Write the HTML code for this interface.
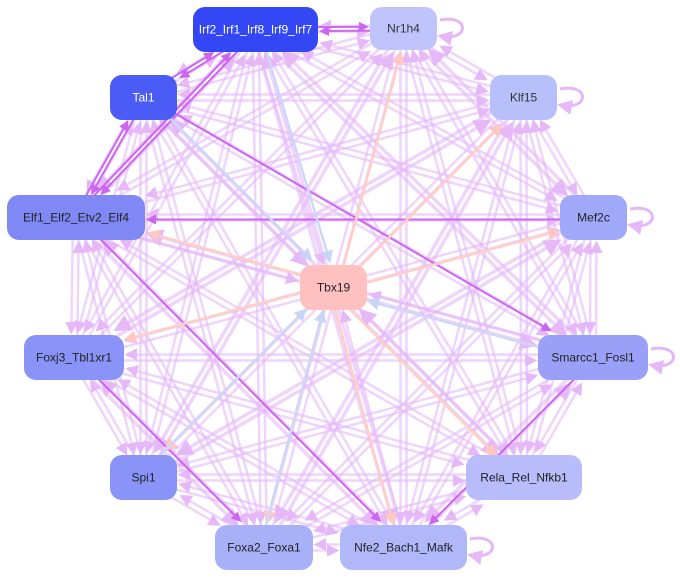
<!DOCTYPE html>
<html><head><meta charset="utf-8"><style>
body{margin:0;background:#fff;width:680px;height:578px;overflow:hidden}
svg{display:block}
text{font-family:"Liberation Sans",sans-serif;font-size:12px}
</style></head><body>
<svg id="s" width="680" height="578" viewBox="0 0 680 578">
<defs>
<marker id="ap" markerWidth="5" markerHeight="5" refX="4" refY="2.5" orient="auto" markerUnits="strokeWidth"><path d="M0,0L5,2.5L0,5z" fill="#e6b8f8"/></marker>
<marker id="ad" markerWidth="5" markerHeight="5" refX="4" refY="2.5" orient="auto" markerUnits="strokeWidth"><path d="M0,0L5,2.5L0,5z" fill="#cc66f0"/></marker>
<marker id="ak" markerWidth="5" markerHeight="5" refX="4" refY="2.5" orient="auto" markerUnits="strokeWidth"><path d="M0,0L5,2.5L0,5z" fill="#ffc8c0"/></marker>
<marker id="ab" markerWidth="5" markerHeight="5" refX="4" refY="2.5" orient="auto" markerUnits="strokeWidth"><path d="M0,0L5,2.5L0,5z" fill="#c8d4f8"/></marker>
</defs>
<g id="e"></g>
<g id="n"></g>
</svg>
<script>
var N=[
["Irf2_Irf1_Irf8_Irf9_Irf7",193,7,125,45,"#3347f5","#fff"],
["Nr1h4",370,7,67,43,"#c0c4fc","#333"],
["Tal1",110,75,67,45,"#4a5cf5","#fff"],
["Klf15",490,75,67,45,"#b8c0fc","#333"],
["Elf1_Elf2_Etv2_Elf4",7,195,138,45,"#8088f5","#222"],
["Mef2c",560,195,67,45,"#a0a8fa","#222"],
["Tbx19",300,265,67,45,"#ffc0c0","#222"],
["Foxj3_Tbl1xr1",24,335,100,45,"#8a94f8","#222"],
["Smarcc1_Fosl1",538,335,110,45,"#9aa0f8","#222"],
["Spi1",110,455,67,45,"#8a94f8","#222"],
["Rela_Rel_Nfkb1",466,455,116,45,"#b8bcfa","#222"],
["Foxa2_Foxa1",215,525,98,45,"#a8b0f8","#222"],
["Nfe2_Bach1_Mafk",340,525,127,45,"#b0b8fa","#222"]];
var ns="http://www.w3.org/2000/svg",E=document.getElementById("e"),G=document.getElementById("n");
function c(i){return [N[i][1]+N[i][3]/2,N[i][2]+N[i][4]/2]}
function ln(a,b,col,w,m,off){var p=c(a),q=c(b);var dx=q[0]-p[0],dy=q[1]-p[1],L=Math.hypot(dx,dy);
var ux=dx/L,uy=dy/L,o=off||0;
var l=document.createElementNS(ns,"line");
l.setAttribute("x1",p[0]-uy*o);l.setAttribute("y1",p[1]+ux*o);
var hw=N[b][3]/2+3,hh=N[b][4]/2+3;var t=Math.min(Math.abs(ux)>1e-6?hw/Math.abs(ux):1e9,Math.abs(uy)>1e-6?hh/Math.abs(uy):1e9);
l.setAttribute("x2",q[0]-ux*t-uy*o);l.setAttribute("y2",q[1]-uy*t+ux*o);
l.setAttribute("stroke",col);l.setAttribute("stroke-width",w);l.setAttribute("marker-end","url(#"+m+")");E.appendChild(l);}
for(var i=0;i<13;i++)for(var j=0;j<13;j++){if(i==j||i==6)continue;
if(j==6&&(i%2))continue;
ln(i,j,"rgba(228,185,250,0.6)",(i*7+j)%4==0?3.5:2.5,"ap",3);}
[[0,2],[2,4],[4,2],[0,1],[1,0],[8,12],[2,0],[0,4],[4,0],[5,4],[2,8],[4,12],[7,11]].forEach(function(e){ln(e[0],e[1],"#cc66f0",2,"ad",-2)});
[1,3,5,7,4,9,11,12,10].forEach(function(t){ln(6,t,"#ffcfc6",2.5,"ak",4)});
[8,2,9,0,11].forEach(function(s){ln(s,6,"#cdd8f8",2.5,"ab",-4)});
[[1,440,28],[3,560,97],[5,630,217],[8,651,357],[12,470,547]].forEach(function(s){var p=document.createElementNS(ns,"path");
var x=s[1],y=s[2];p.setAttribute("d","M"+x+","+(y-8)+" C"+(x+30)+","+(y-14)+" "+(x+30)+","+(y+14)+" "+x+","+(y+8));
p.setAttribute("fill","none");p.setAttribute("stroke","rgba(225,175,248,0.9)");p.setAttribute("stroke-width",3);p.setAttribute("marker-end","url(#ap)");E.appendChild(p);});
N.forEach(function(n){var r=document.createElementNS(ns,"rect");r.setAttribute("x",n[1]);r.setAttribute("y",n[2]);r.setAttribute("width",n[3]);r.setAttribute("height",n[4]);r.setAttribute("rx",12);r.setAttribute("fill",n[5]);G.appendChild(r);
var t=document.createElementNS(ns,"text");t.setAttribute("x",n[1]+n[3]/2);t.setAttribute("y",n[2]+n[4]/2+4);t.setAttribute("text-anchor","middle");t.setAttribute("fill",n[6]);t.textContent=n[0];G.appendChild(t);});
</script>
</body></html>
